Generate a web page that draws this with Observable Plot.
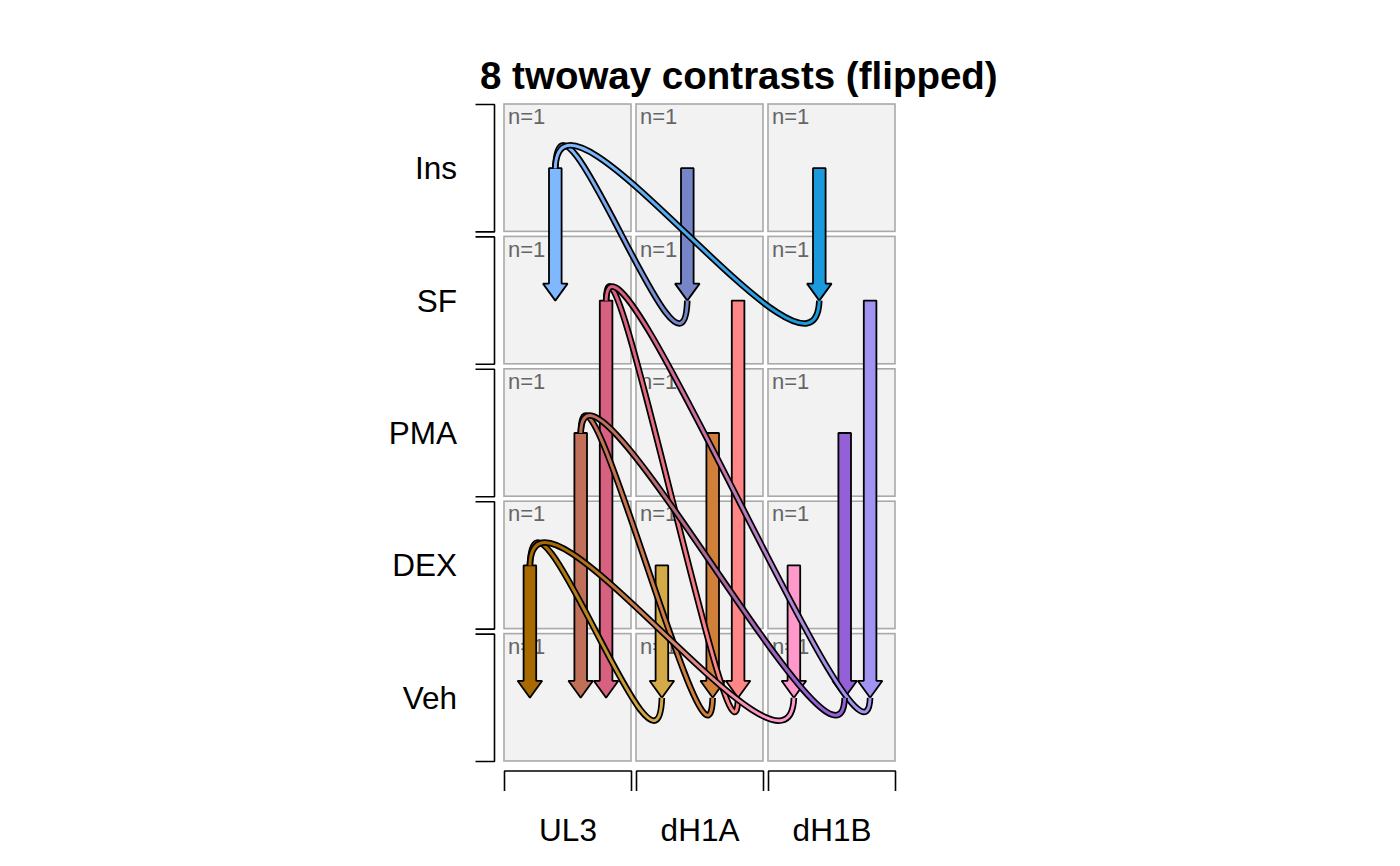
<!DOCTYPE html>
<html>
<head>
<meta charset="utf-8">
<script src="https://cdn.jsdelivr.net/npm/d3@7"></script>
<script src="https://cdn.jsdelivr.net/npm/@observablehq/plot@0.6"></script>
<style>
  body { margin: 0; background: #fff; font-family: "Liberation Sans", Arial, Helvetica, sans-serif; overflow: hidden; }
  #title { position: relative; height: 100px; width: 1400px; }
  #title span { position: absolute; left: 480px; top: 57px; font-size: 38.5px; line-height: 38.5px; font-weight: bold; white-space: nowrap; color: #000; }
</style>
</head>
<body>
<div id="title"><span>8 twoway contrasts (flipped)</span></div>
<div id="chart"></div>
<script>
// ---- data ----
const cellLines = ["UL3", "dH1A", "dH1B"];                 // columns
const treatments = ["Ins", "SF", "PMA", "DEX", "Veh"];     // rows, top to bottom
const sampleCounts = [                                      // n per cell (row x column)
  [1, 1, 1],
  [1, 1, 1],
  [1, 1, 1],
  [1, 1, 1],
  [1, 1, 1]
];
const arrowTreatments = ["DEX", "Ins", "PMA", "SF"];       // arrow slot order inside each column
const arrowTargets = ["Veh", "SF", "Veh", "Veh"];          // flipped contrast: treatment -> control
const colorsUL3  = ["#A66A00", "#7FB8FF", "#C07058", "#D86080"];
const colorsdH1A = ["#D4AA48", "#7585C8", "#D08038", "#FF8686"];
const colorsdH1B = ["#FF99CC", "#1A9ADC", "#9460D8", "#A094F0"];
const referenceLine = "UL3";
const contrastLines = ["dH1A", "dH1B"];
const contrastTreatments = ["Ins", "SF", "PMA", "DEX"];

// ---- tables built from the arrays ----
const PAD = 2.5 / 132;
const arrowColors = [colorsUL3, colorsdH1A, colorsdH1B];
const cells = [];
treatments.forEach((t, r) => cellLines.forEach((l, c) => cells.push({row: r, col: c, n: sampleCounts[r][c]})));
const slotX = (c, k) => c + PAD + (1 - 2 * PAD) * (k + 1) / 5;
const arrows = [];
cellLines.forEach((l, c) => arrowTreatments.forEach((t, k) => arrows.push({
  line: l, treatment: t,
  x: slotX(c, k),
  y1: treatments.indexOf(t) + 0.5,
  y2: treatments.indexOf(arrowTargets[k]) + 0.5,
  color: arrowColors[c][k]
})));
const arrowOf = (l, t) => arrows.find(a => a.line === l && a.treatment === t);
const contrasts = [];
contrastTreatments.forEach(t => contrastLines.forEach(l => {
  const s = arrowOf(referenceLine, t), e = arrowOf(l, t);
  contrasts.push({id: `g-${t}-${l}`, x1: s.x, y1: s.y1, x2: e.x, y2: e.y2, c1: s.color, c2: e.color});
}));

// ---- custom curves (shapes drawn between the two scaled points) ----
function arrowCurve(shaft, head, headLen) {
  return ctx => { let p; return {
    areaStart() {}, areaEnd() {},
    lineStart() { p = []; },
    point(x, y) { p.push([x, y]); },
    lineEnd() {
      const [[x0, y0], [x1, y1]] = p;
      const len = Math.hypot(x1 - x0, y1 - y0), ux = (x1 - x0) / len, uy = (y1 - y0) / len, nx = -uy, ny = ux;
      const bx = x1 - ux * headLen, by = y1 - uy * headLen;
      ctx.moveTo(x0 + nx * shaft, y0 + ny * shaft);
      ctx.lineTo(bx + nx * shaft, by + ny * shaft);
      ctx.lineTo(bx + nx * head, by + ny * head);
      ctx.lineTo(x1, y1);
      ctx.lineTo(bx - nx * head, by - ny * head);
      ctx.lineTo(bx - nx * shaft, by - ny * shaft);
      ctx.lineTo(x0 - nx * shaft, y0 - ny * shaft);
      ctx.closePath();
    }
  }; };
}
function swoopCurve(a) {
  return ctx => { let p; return {
    areaStart() {}, areaEnd() {},
    lineStart() { p = []; },
    point(x, y) { p.push([x, y]); },
    lineEnd() {
      const [[x0, y0], [x1, y1]] = p;
      ctx.moveTo(x0, y0);
      ctx.bezierCurveTo(x0 + 4, y0 - a, x1 - 4, y1 + a, x1, y1);
    }
  }; };
}
function bracketCurve(ax, ay) {
  return ctx => { let p; return {
    areaStart() {}, areaEnd() {},
    lineStart() { p = []; },
    point(x, y) { p.push([x, y]); },
    lineEnd() {
      const [[x0, y0], [x1, y1]] = p;
      ctx.moveTo(x0 + ax, y0 + ay);
      ctx.lineTo(x0, y0);
      ctx.lineTo(x1, y1);
      ctx.lineTo(x1 + ax, y1 + ay);
    }
  }; };
}

// gradients for the contrast curves
function gradientDefs() {
  const ns = "http://www.w3.org/2000/svg";
  const defs = document.createElementNS(ns, "defs");
  for (const c of contrasts) {
    const g = document.createElementNS(ns, "linearGradient");
    g.setAttribute("id", c.id);
    g.setAttribute("x1", "0"); g.setAttribute("x2", "1"); g.setAttribute("y1", "0"); g.setAttribute("y2", "0");
    for (const [o, col] of [[0.1, c.c1], [0.9, c.c2]]) {
      const s = document.createElementNS(ns, "stop");
      s.setAttribute("offset", o); s.setAttribute("stop-color", col);
      g.appendChild(s);
    }
    defs.appendChild(g);
  }
  return defs;
}

const curveMarks = contrasts.flatMap(c => [
  Plot.link([c], {x1: "x1", y1: "y1", x2: "x2", y2: "y2", curve: swoopCurve(115), stroke: "#000", strokeWidth: 6.5}),
  Plot.link([c], {x1: "x1", y1: "y1", x2: "x2", y2: "y2", curve: swoopCurve(115), stroke: d => `url(#${d.id})`, strokeWidth: 3})
]);

const chart = Plot.plot({
  width: 1400,
  height: 766,
  marginLeft: 501.5,
  marginRight: 502.5,
  marginTop: 1.5,
  marginBottom: 102.5,
  x: {domain: [0, 3], axis: null},
  y: {domain: [0, 5], reverse: true, axis: null},
  color: {type: "identity"},
  style: {fontFamily: "'Liberation Sans', Arial, Helvetica, sans-serif", background: "#fff", overflow: "visible"},
  marks: [
    gradientDefs,
    Plot.rect(cells, {x1: d => d.col + PAD, x2: d => d.col + 1 - PAD, y1: d => d.row + PAD, y2: d => d.row + 1 - PAD,
      fill: "#F2F2F2", stroke: "#A9A9A9", strokeWidth: 1.6}),
    Plot.text(cells, {x: d => d.col + PAD, y: d => d.row + PAD, text: d => `n=${d.n}`, textAnchor: "start", lineAnchor: "top",
      dx: 3.5, dy: 4, fill: "#666", fontSize: 22}),
    // row brackets and labels
    Plot.link(treatments, {x1: 0, x2: 0, y1: (d, i) => i + PAD, y2: (d, i) => i + 1 - PAD, dx: -7.5,
      curve: bracketCurve(-19, 0), stroke: "#000", strokeWidth: 1.6}),
    Plot.text(treatments, {x: 0, y: (d, i) => i + 0.5, text: d => d, dx: -45, dy: 1, textAnchor: "end", fontSize: 31.5, fill: "#000"}),
    // column brackets and labels
    Plot.link(cellLines, {x1: (d, i) => i + PAD, x2: (d, i) => i + 1 - PAD, y1: 5, y2: 5, dy: 7,
      curve: bracketCurve(0, 20), stroke: "#000", strokeWidth: 1.6}),
    Plot.text(cellLines, {x: (d, i) => i + 0.5, y: 5, text: d => d, dy: 67, fontSize: 31.5, fill: "#000"}),
    // arrows
    Plot.link(arrows, {x1: "x", x2: "x", y1: "y1", y2: "y2", curve: arrowCurve(6.3, 12.3, 17),
      fill: "color", stroke: "#000", strokeWidth: 1.8, strokeLinejoin: "miter"}),
    // contrast curves
    ...curveMarks
  ]
});
document.getElementById("chart").appendChild(chart);
</script>
</body>
</html>
